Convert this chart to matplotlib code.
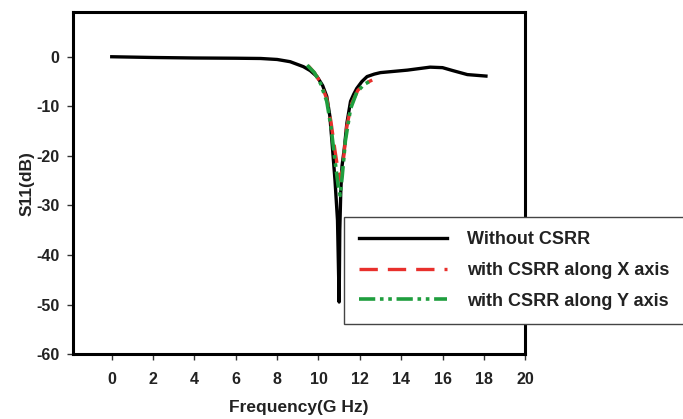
import numpy as np
import matplotlib.pyplot as plt

plt.rcParams['font.family'] = ['Liberation Sans', 'DejaVu Sans']
plt.rcParams['font.weight'] = 'bold'
plt.rcParams['axes.unicode_minus'] = False

# Without CSRR
f_ref = [0, 2, 4, 6, 7.2, 8, 8.63, 9.27, 9.6, 9.93, 10.2, 10.4, 10.55, 10.65, 10.8, 10.92, 11.0,
         11.03, 11.08, 11.14, 11.25, 11.37, 11.55, 11.7, 11.85, 12.1, 12.35, 12.7, 13.0, 14.3,
         15.4, 16.0, 16.5, 17.2, 18.1]
s_ref = [0, -0.15, -0.25, -0.3, -0.35, -0.55, -1.0, -2.0, -2.8, -4.0, -5.8, -8.0, -12, -17, -25, -33, -49.5,
         -35, -27, -22, -18.5, -13.5, -9, -7.6, -6.4, -5.0, -4.0, -3.5, -3.2, -2.7,
         -2.1, -2.2, -2.8, -3.6, -3.9]

# with CSRR along X axis
f_x = [9.5, 9.8, 10.1, 10.4, 10.6, 10.8, 10.95, 11.08, 11.2, 11.37, 11.6, 11.9, 12.2, 12.6]
s_x = [-1.8, -3.2, -5.2, -8.5, -13, -19, -23, -25, -21, -14, -9.5, -6.8, -5.5, -4.7]

# with CSRR along Y axis
f_y = [9.45, 9.8, 10.1, 10.4, 10.6, 10.8, 10.95, 11.05, 11.15, 11.3, 11.55, 11.85, 12.2, 12.6]
s_y = [-1.7, -3.2, -5.4, -9, -14, -21, -26, -28, -24, -17, -10.5, -7.2, -5.6, -4.7]

fig = plt.figure(figsize=(6.83, 4.19), dpi=100)
ax = fig.add_axes([0.107, 0.155, 0.662, 0.816])

ax.plot(f_ref, s_ref, color='black', lw=2.4, solid_joinstyle='round', label='Without CSRR')
ax.plot(f_x, s_x, color='#e8302c', lw=2.4, dashes=(5.5, 3), label='with CSRR along X axis')
ax.plot(f_y, s_y, color='#1f9e3e', lw=2.6, dashes=(4.5, 1.3, 1, 1.3, 1, 1.3), label='with CSRR along Y axis')

ax.set_xlim(-1.87, 20)
ax.set_ylim(-60, 9)
ax.set_xticks(np.arange(0, 21, 2))
ax.set_yticks(np.arange(-60, 1, 10))
ax.tick_params(direction='out', length=4, width=1, labelsize=11.5, colors='#333333')
ax.tick_params(axis='x', pad=9)
ax.tick_params(axis='y', pad=6)
for lab in ax.get_xticklabels() + ax.get_yticklabels():
    lab.set_fontweight('bold')
    lab.set_color('#222222')
for sp in ax.spines.values():
    sp.set_linewidth(2.2)

ax.set_xlabel('Frequency(G Hz)', fontsize=12.5, fontweight='bold', color='#222222', labelpad=9)
ax.set_ylabel('S11(dB)', fontsize=12.5, fontweight='bold', color='#222222', labelpad=1)

leg = fig.legend(loc='upper left', bbox_to_anchor=(0.504, 0.482), fontsize=13,
                 handlelength=4.9, handletextpad=1.1, labelspacing=0.75,
                 borderpad=0.8, borderaxespad=0, fancybox=False, framealpha=1)
leg.get_frame().set_edgecolor('#444444')
leg.get_frame().set_linewidth(1.0)
for t in leg.get_texts():
    t.set_fontweight('bold')
    t.set_color('#222222')

fig.savefig('out.png', dpi=100)
